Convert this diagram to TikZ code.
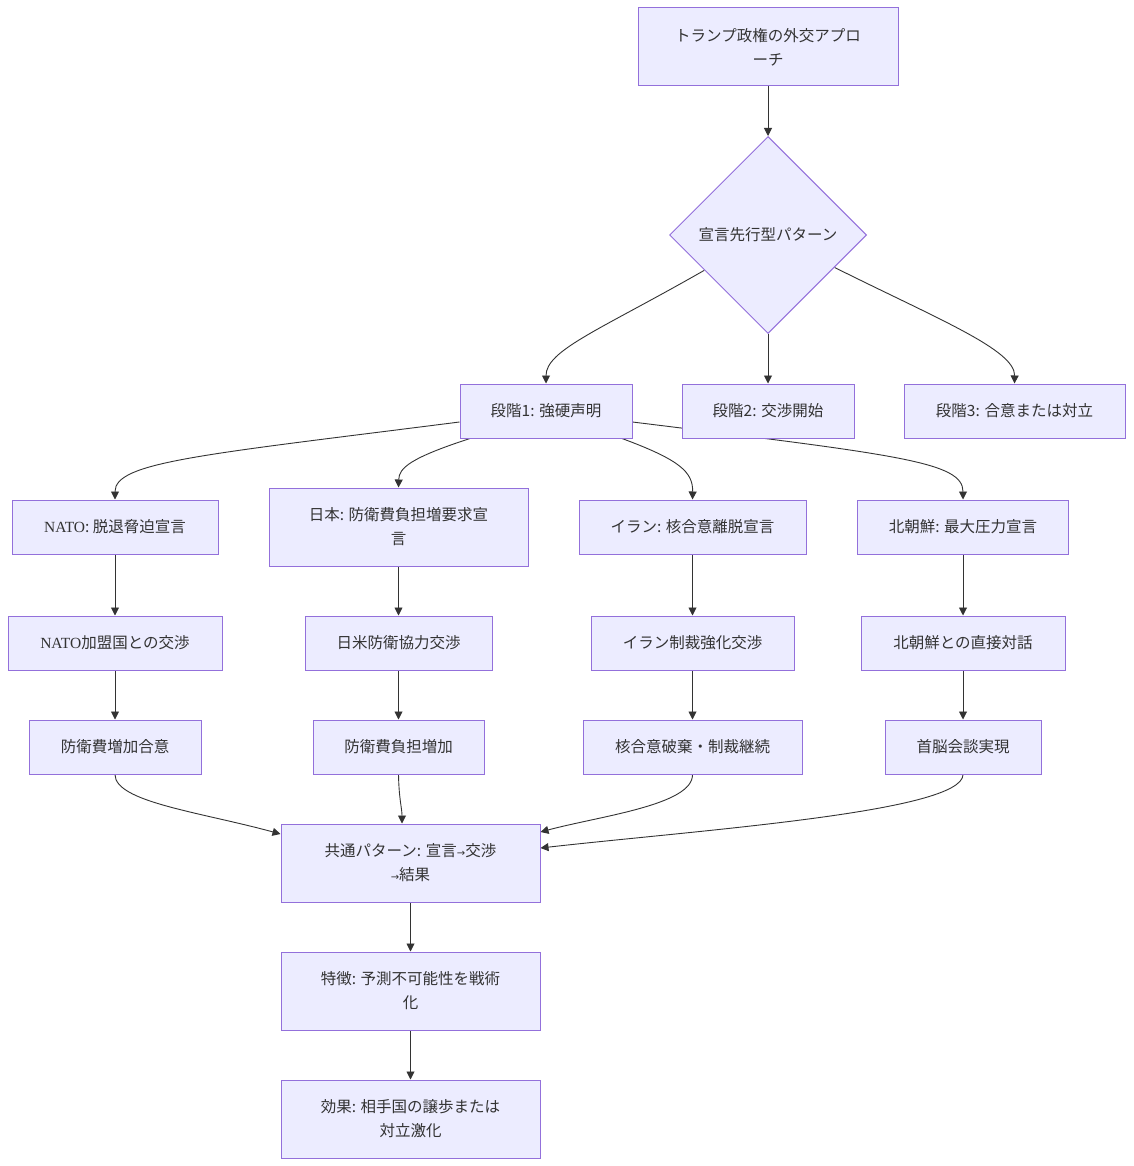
\documentclass[tikz,border=0pt]{standalone}
\usepackage{fontspec}
\setmainfont{Noto Sans CJK JP}
\newfontfamily\latinserif{Liberation Serif}
\newfontfamily\arrowfont{DejaVu Sans}
\usetikzlibrary{arrows.meta,shapes.geometric,backgrounds,positioning}
\definecolor{nodefill}{HTML}{ECECFF}
\definecolor{nodeline}{HTML}{9370DB}
\definecolor{edgecol}{HTML}{333333}
\definecolor{txt}{HTML}{333333}
\newcommand{\smallarr}{{\arrowfont\fontsize{10}{24}\selectfont →}}
\tikzset{
  x=1pt,y=-1pt,
  box/.style={draw=nodeline,fill=nodefill,line width=1pt,rectangle,inner sep=0pt,
    text=txt,align=center,font=\fontsize{15.5}{24}\selectfont},
  decision/.style={draw=nodeline,fill=nodefill,line width=1pt,diamond,aspect=1,
    minimum width=197pt,minimum height=197pt,inner sep=0pt,text=txt,align=center,
    font=\fontsize{15.5}{24}\selectfont},
  link/.style={draw=edgecol,line width=0.9pt,-{Triangle[length=8pt,width=8pt]}}
}
\begin{document}
\begin{tikzpicture}
\useasboundingbox (0,0) rectangle (1133,1166);

% top
\node[box,minimum width=260pt,minimum height=78pt] (top) at (768,47) {トランプ政権の外交アプロ\\ーチ};
\node[decision] (dec) at (768,235) {宣言先行型パターン};

% stages
\node[box,minimum width=172pt,minimum height=54pt] (s1) at (546,411) {段階1: 強硬声明};
\node[box,minimum width=172pt,minimum height=54pt] (s2) at (768,411) {段階2: 交渉開始};
\node[box,minimum width=221pt,minimum height=54pt] (s3) at (1014.5,411) {段階3: 合意または対立};

% row 2
\node[box,minimum width=206pt,minimum height=54pt] (a1) at (115,527) {{\latinserif NATO}: 脱退脅迫宣言};
\node[box,minimum width=259pt,minimum height=78pt] (b1) at (398.5,527) {日本: 防衛費負担増要求宣\\言};
\node[box,minimum width=227pt,minimum height=54pt] (c1) at (692.5,527) {イラン: 核合意離脱宣言};
\node[box,minimum width=211pt,minimum height=54pt] (d1) at (963,527) {北朝鮮: 最大圧力宣言};

% row 3
\node[box,minimum width=214pt,minimum height=54pt] (a2) at (115,643) {{\latinserif NATO}加盟国との交渉};
\node[box,minimum width=187pt,minimum height=54pt] (b2) at (398.5,643) {日米防衛協力交渉};
\node[box,minimum width=203pt,minimum height=54pt] (c2) at (692.5,643) {イラン制裁強化交渉};
\node[box,minimum width=204pt,minimum height=54pt] (d2) at (963,643) {北朝鮮との直接対話};

% row 4
\node[box,minimum width=172pt,minimum height=54pt] (a3) at (115,747) {防衛費増加合意};
\node[box,minimum width=171pt,minimum height=54pt] (b3) at (398.5,747) {防衛費負担増加};
\node[box,minimum width=219pt,minimum height=54pt] (c3) at (692.5,747) {核合意破棄・制裁継続};
\node[box,minimum width=156pt,minimum height=54pt] (d3) at (963,747) {首脳会談実現};

% bottom
\node[box,minimum width=259pt,minimum height=78pt] (com) at (410.5,863) {共通パターン: 宣言\smallarr 交渉\\\smallarr 結果};
\node[box,minimum width=259pt,minimum height=78pt] (feat) at (410.5,991) {特徴: 予測不可能性を戦術\\化};
\node[box,minimum width=259pt,minimum height=78pt] (eff) at (410.5,1119) {効果: 相手国の譲歩または\\対立激化};

\begin{pgfonlayer}{background}
\fill[white] (0,0) rectangle (1133,1166);
\draw[link] (top.south) -- (dec.north);
\draw[link] (dec.209) .. controls (600,330) and (546,350) .. (s1.north);
\draw[link] (dec.south) -- (s2.north);
\draw[link] (dec.334) .. controls (940,320) and (1015,350) .. (s3.north);

\draw[link] ([yshift=-11pt]s1.west) .. controls (200,455) and (115,462) .. (a1.north);
\draw[link] ([xshift=-76pt]s1.south) .. controls (410,458) and (399,468) .. (b1.north);
\draw[link] ([xshift=76pt]s1.south) .. controls (680,460) and (693,472) .. (c1.north);
\draw[link] ([yshift=-11pt]s1.east) .. controls (900,455) and (963,462) .. (d1.north);

\draw[link] (a1.south) -- (a2.north);
\draw[link] (b1.south) -- (b2.north);
\draw[link] (c1.south) -- (c2.north);
\draw[link] (d1.south) -- (d2.north);
\draw[link] (a2.south) -- (a3.north);
\draw[link] (b2.south) -- (b3.north);
\draw[link] (c2.south) -- (c3.north);
\draw[link] (d2.south) -- (d3.north);

\draw[link] (a3.south) .. controls (115,802) and (200,812) .. ([yshift=29pt]com.west);
\draw[link] (b3.south) .. controls (399,800) and (402,808) .. ([xshift=-8.5pt]com.north);
\draw[link] (c3.south) .. controls (693,805) and (600,816) .. ([yshift=31pt]com.east);
\draw[link] (d3.south) .. controls (963,812) and (700,830) .. ([yshift=15pt]com.east);

\draw[link] (com.south) -- (feat.north);
\draw[link] (feat.south) -- (eff.north);
\end{pgfonlayer}
\end{tikzpicture}
\end{document}
